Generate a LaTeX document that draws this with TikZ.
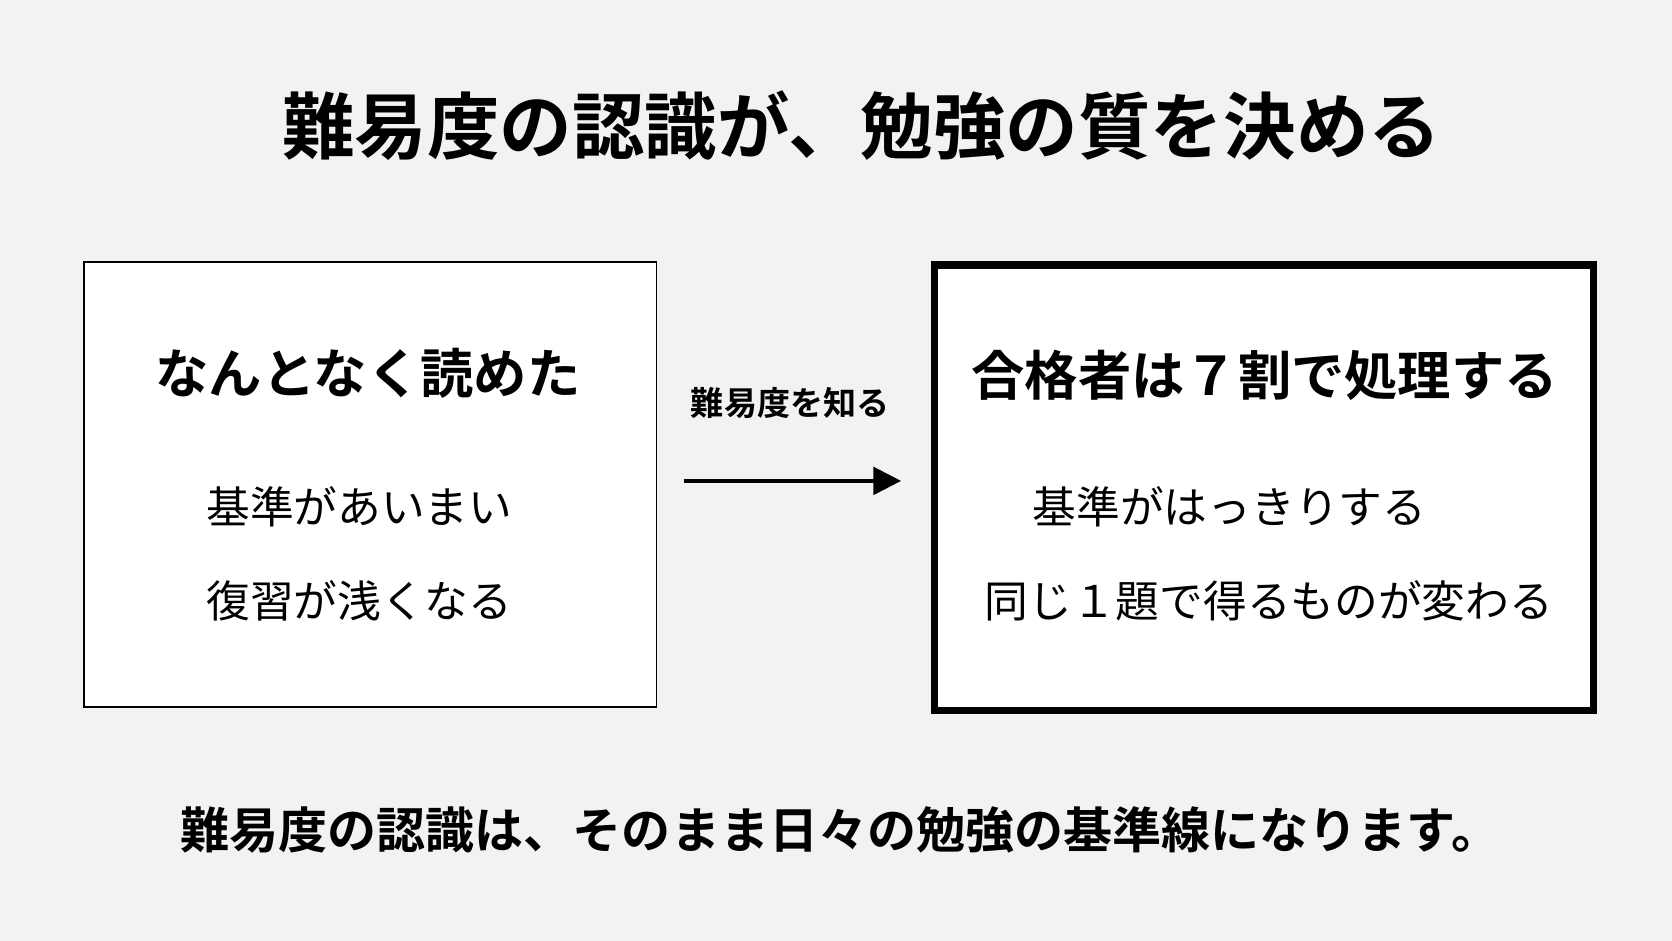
\documentclass[tikz,border=0pt]{standalone}
\usepackage{fontspec}
\usetikzlibrary{arrows.meta}
\setmainfont{Noto Sans CJK JP}[BoldFont={* Bold}]
\begin{document}
\begin{tikzpicture}[x=1pt,y=-1pt,
  box/.style={draw=black,fill=white},
  head/.style={font=\fontsize{50}{56}\selectfont\bfseries},
  body/.style={font=\fontsize{41}{46}\selectfont}]
\fill[fill={rgb,255:red,242;green,242;blue,242}] (0,0) rectangle (1568,882);
\useasboundingbox (0,0) rectangle (1568,882);
\node[font=\fontsize{68}{74}\selectfont\bfseries] (title) at (808,118) {難易度の認識が、勉強の質を決める};
\node[box,line width=1.5pt,minimum width=537pt,minimum height=417pt,anchor=north west] (L) at (78,245) {};
\node[box,line width=7pt,minimum width=618pt,minimum height=418pt,anchor=north west] (R) at (873,245) {};
\node[head] (lh) at (345,350) {なんとなく読めた};
\node[body] (l1) at (337,475) {基準があいまい};
\node[body] (l2) at (337,563) {復習が浅くなる};
\node[head] (rh) at (1186,352) {合格者は７割で処理する};
\node[body] (r1) at (1153,475) {基準がはっきりする};
\node[body] (r2) at (1190,563) {同じ１題で得るものが変わる};
\coordinate (a1) at (641,451);
\coordinate (a2) at (845,451);
\draw[line width=3pt,-{Triangle[length=26pt,width=26pt]}] (a1) -- (a2);
\node[font=\fontsize{31}{36}\selectfont\bfseries] (al) at (741,378) {難易度を知る};
\node[font=\fontsize{46}{52}\selectfont\bfseries] (bt) at (788,778) {難易度の認識は、そのまま日々の勉強の基準線になります。};
\end{tikzpicture}
\end{document}
